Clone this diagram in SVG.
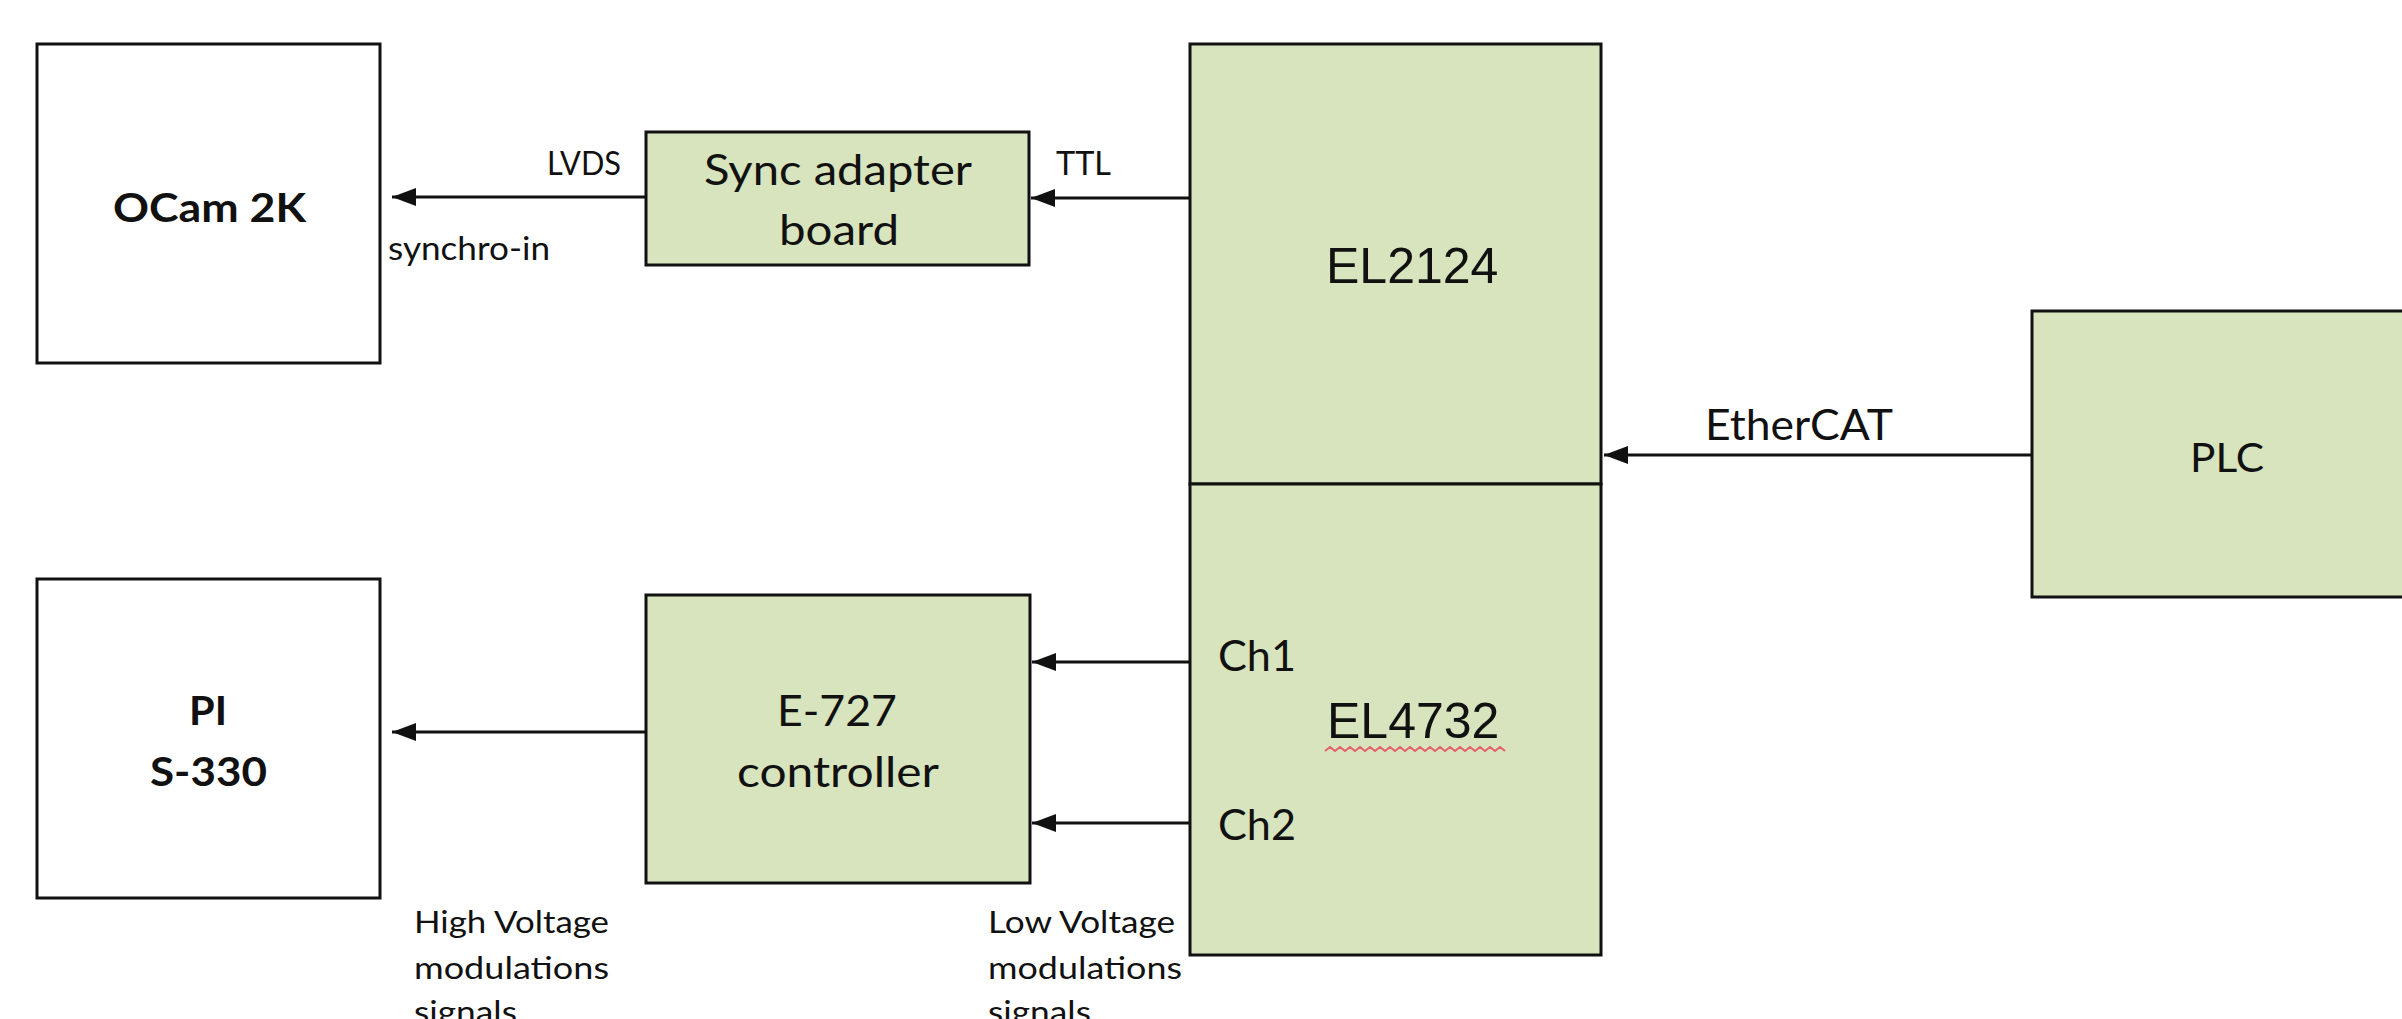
<svg xmlns="http://www.w3.org/2000/svg" width="2402" height="1019" viewBox="0 0 2402 1019">
<style>
.box{stroke:#111;stroke-width:3}
.w{fill:#ffffff}
.g{fill:#D7E4BD}
.t{font-family:Lato,"Open Sans","Liberation Sans",sans-serif;fill:#111}
.a{font-family:"Liberation Sans",Arial,sans-serif;fill:#111;font-size:50px}
.b{font-weight:bold;font-size:40px}
.s{font-size:32px}
.m{font-size:42px}
.c{stroke:#111;stroke-width:3;fill:none;marker-end:url(#arr)}
</style>
<defs>
<marker id="arr" viewBox="0 0 24 18" refX="24" refY="9" markerWidth="24" markerHeight="18" markerUnits="userSpaceOnUse" orient="auto">
<path d="M0,0 L24,9 L0,18 z" fill="#111"/>
</marker>
</defs>
<rect width="2402" height="1019" fill="#ffffff"/>
<g id="ocam">
<rect class="box w" x="37" y="44" width="343" height="319"/>
<text class="t b" x="113" y="222" textLength="193" lengthAdjust="spacingAndGlyphs">OCam 2K</text>
</g>
<g id="sync">
<rect class="box g" x="646" y="132" width="383" height="133"/>
<text class="t m" x="704" y="185" textLength="268" lengthAdjust="spacingAndGlyphs">Sync adapter</text>
<text class="t m" x="779" y="245" textLength="120" lengthAdjust="spacingAndGlyphs">board</text>
</g>
<g id="el2124">
<rect class="box g" x="1190" y="44" width="411" height="440"/>
<text class="a" x="1326" y="283">EL2124</text>
</g>
<g id="el4732">
<rect class="box g" x="1190" y="484" width="411" height="471"/>
<text class="t" style="font-size:43px" x="1218" y="671" textLength="78" lengthAdjust="spacingAndGlyphs">Ch1</text>
<text class="t" style="font-size:43px" x="1218" y="840" textLength="78" lengthAdjust="spacingAndGlyphs">Ch2</text>
<text class="a" x="1327" y="738">EL4732</text>
<path d="M1325,751 l5,-4 l5,4 l5,-4 l5,4 l5,-4 l5,4 l5,-4 l5,4 l5,-4 l5,4 l5,-4 l5,4 l5,-4 l5,4 l5,-4 l5,4 l5,-4 l5,4 l5,-4 l5,4 l5,-4 l5,4 l5,-4 l5,4 l5,-4 l5,4 l5,-4 l5,4 l5,-4 l5,4 l5,-4 l5,4 l5,-4 l5,4 l5,-4 l5,4" fill="none" stroke="#E5606A" stroke-width="2"/>
</g>
<g id="plc">
<rect class="box g" x="2032" y="311" width="400" height="286"/>
<text class="t" style="font-size:41px" x="2190" y="472" textLength="74" lengthAdjust="spacingAndGlyphs">PLC</text>
</g>
<g id="pi">
<rect class="box w" x="37" y="579" width="343" height="319"/>
<text class="t b" x="189" y="725" textLength="38" lengthAdjust="spacingAndGlyphs">PI</text>
<text class="t b" x="150" y="786" textLength="117" lengthAdjust="spacingAndGlyphs">S-330</text>
</g>
<g id="e727">
<rect class="box g" x="646" y="595" width="384" height="288"/>
<text class="t" style="font-size:43px" x="777" y="726" textLength="120" lengthAdjust="spacingAndGlyphs">E-727</text>
<text class="t" style="font-size:43px" x="737" y="787" textLength="202" lengthAdjust="spacingAndGlyphs">controller</text>
</g>
<g id="connectors">
<line class="c" x1="1190" y1="198" x2="1031" y2="198"/>
<line class="c" x1="646" y1="197" x2="392" y2="197"/>
<line class="c" x1="2032" y1="455" x2="1604" y2="455"/>
<line class="c" x1="1190" y1="662" x2="1032" y2="662"/>
<line class="c" x1="1190" y1="823" x2="1032" y2="823"/>
<line class="c" x1="646" y1="732" x2="392" y2="732"/>
</g>
<g id="labels">
<text class="t s" x="547" y="175" textLength="74" lengthAdjust="spacingAndGlyphs">LVDS</text>
<text class="t s" x="1056" y="175" textLength="55" lengthAdjust="spacingAndGlyphs">TTL</text>
<text class="t s" x="388" y="260" textLength="162" lengthAdjust="spacingAndGlyphs">synchro-in</text>
<text class="t m" x="1705" y="440" textLength="188" lengthAdjust="spacingAndGlyphs">EtherCAT</text>
<text class="t" style="font-size:31px" x="414" y="933" textLength="195" lengthAdjust="spacingAndGlyphs">High Voltage</text>
<text class="t" style="font-size:31px" x="414" y="979" textLength="195" lengthAdjust="spacingAndGlyphs">modulations</text>
<text class="t" style="font-size:31px" x="414" y="1023" textLength="103" lengthAdjust="spacingAndGlyphs">signals</text>
<text class="t" style="font-size:31px" x="988" y="933" textLength="187" lengthAdjust="spacingAndGlyphs">Low Voltage</text>
<text class="t" style="font-size:31px" x="988" y="979" textLength="194" lengthAdjust="spacingAndGlyphs">modulations</text>
<text class="t" style="font-size:31px" x="988" y="1023" textLength="103" lengthAdjust="spacingAndGlyphs">signals</text>
</g>
</svg>
